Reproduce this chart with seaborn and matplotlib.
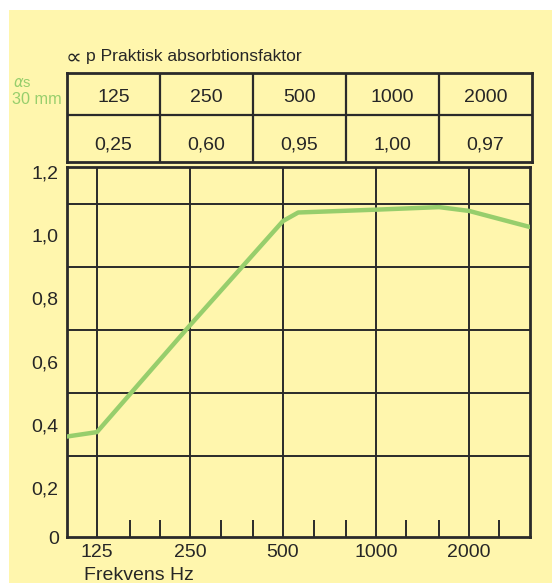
import matplotlib
matplotlib.use("Agg")
import matplotlib.pyplot as plt
import seaborn as sns
import numpy as np
import pandas as pd

# ---- data ----
freq_hz = [100, 125, 250, 500, 560, 1000, 1600, 2000, 3150]
absorption = [0.363, 0.377, 0.715, 1.045, 1.072, 1.081, 1.089, 1.077, 1.026]
table_freqs = ["125", "250", "500", "1000", "2000"]
table_values = ["0,25", "0,60", "0,95", "1,00", "0,97"]
x_major = [125, 250, 500, 1000, 2000]
x_minor = [160, 200, 315, 400, 630, 800, 1250, 1600, 2500]
y_tick_vals = [0.045, 0.2, 0.4, 0.6, 0.8, 1.0, 1.2]
y_tick_labels = ["0", "0,2", "0,4", "0,6", "0,8", "1,0", "1,2"]
y_grid_vals = [0.3, 0.5, 0.7, 0.9, 1.1]

sns.set_theme(style="white")
plt.rcParams["font.family"] = ["Liberation Sans", "DejaVu Sans"]

YELLOW = "#FFF6AD"
GREEN = "#97CE6C"
DARK = "#2A2A2A"
TXT = "#262626"

W, H = 552, 583
fig = plt.figure(figsize=(W / 100, H / 100), dpi=100)
fig.patch.set_facecolor("white")

def fx(px):
    return px / W

def fy(py):
    return 1 - py / H

# yellow panel as a background axes
bg = fig.add_axes([fx(9), 0, 1 - fx(9), fy(10)], zorder=-10)
bg.set_facecolor(YELLOW)
bg.set_xticks([])
bg.set_yticks([])
for s in bg.spines.values():
    s.set_visible(False)

# ---- main plot ----
L, R, T, B = 67, 530, 167, 537
ax = fig.add_axes([fx(L), fy(B), fx(R - L), fy(T) - fy(B)])
ax.set_facecolor(YELLOW)
df = pd.DataFrame({"f": freq_hz, "a": absorption})
sns.lineplot(data=df, x="f", y="a", ax=ax, color=GREEN, lw=3.2, zorder=5)
ax.set_xscale("log")
ax.set_xlim(100, 3150)
ax.set_ylim(0.045, 1.216)
ax.set_xticks(x_major)
ax.set_xticklabels(x_major)
ax.set_xticks(x_minor, minor=True)
ax.set_yticks(y_tick_vals)
ax.set_yticklabels(y_tick_labels)
ax.set_yticks(y_grid_vals, minor=True)
ax.tick_params(axis="x", which="major", length=0, pad=5, labelsize=14, labelcolor=TXT)
ax.tick_params(axis="x", which="minor", bottom=True, direction="in", length=12.2,
               width=1.4, color=DARK, labelbottom=False)
ax.tick_params(axis="y", which="major", length=0, pad=6, labelsize=14, labelcolor=TXT)
ax.tick_params(axis="y", which="minor", length=0)
ax.grid(False)
for v in x_major:
    ax.axvline(v, color=DARK, lw=1.4, zorder=2)
for v in y_grid_vals:
    ax.axhline(v, color=DARK, lw=1.4, zorder=2)
for s in ax.spines.values():
    s.set_color(DARK)
    s.set_linewidth(2)
ax.set_xlabel("")
ax.set_ylabel("")
fig.text(fx(84), fy(575), "Frekvens Hz", fontsize=14, color=TXT, va="center", ha="left")

# ---- table ----
TL, TR, TT, TB = 67, 532, 73, 162
tax = fig.add_axes([fx(TL), fy(TB), fx(TR - TL), fy(TT) - fy(TB)])
tax.set_facecolor(YELLOW)
tax.set_xlim(0, len(table_freqs))
tax.set_ylim(0, TB - TT)
tax.set_xticks([])
tax.set_yticks([])
for s in tax.spines.values():
    s.set_color(DARK)
    s.set_linewidth(2)
tax.axhline(TB - 115, color=DARK, lw=1.6)
for i in range(1, len(table_freqs)):
    tax.axvline(i, color=DARK, lw=1.6)
for i, (f, v) in enumerate(zip(table_freqs, table_values)):
    tax.text(i + 0.5, TB - 98, f, ha="center", va="center", fontsize=14, color=TXT)
    tax.text(i + 0.5, TB - 145, v, ha="center", va="center", fontsize=14, color=TXT)

fig.text(fx(66), fy(58), "∝", fontsize=16, color=TXT, ha="left", va="center",
         family=["DejaVu Sans"])
fig.text(fx(86), fy(57), "p Praktisk absorbtionsfaktor", fontsize=12.6, color=TXT,
         ha="left", va="center")
fig.text(fx(13), fy(83), r"$\it{\alpha}$s", fontsize=10.5, color=GREEN, ha="left", va="center")
fig.text(fx(12), fy(100), "30 mm", fontsize=11.7, color=GREEN, ha="left", va="center")

fig.savefig("out.png", dpi=100, facecolor=fig.get_facecolor())
